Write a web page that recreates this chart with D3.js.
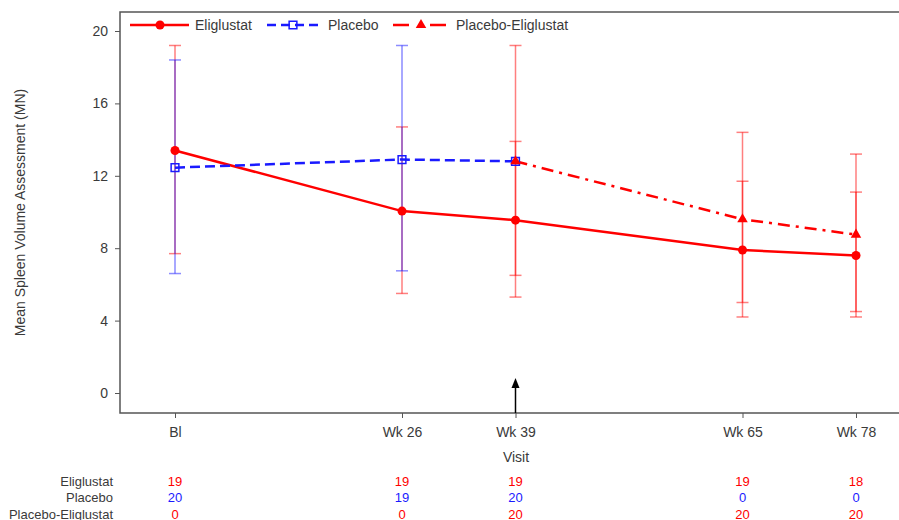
<!DOCTYPE html>
<html>
<head>
<meta charset="utf-8">
<script src="https://cdn.jsdelivr.net/npm/d3@7"></script>
<style>
  body { margin: 0; background: #fff; }
  svg text { font-family: "Liberation Sans", Arial, sans-serif; fill: #3a3a3a; }
</style>
</head>
<body>
<div id="chart"></div>
<script>
// visits and their week numbers
const visits = ["Bl", "Wk 26", "Wk 39", "Wk 65", "Wk 78"];
const weeks = [0, 26, 39, 65, 78];
const yTicks = [0, 4, 8, 12, 16, 20];

// Eliglustat mean and error bar ends
const eligMean = [13.4, 10.05, 9.55, 7.9, 7.6];
const eligLo = [7.7, 5.5, 5.3, 4.2, 4.2];
const eligHi = [19.2, 14.7, 13.9, 11.7, 11.1];

// Placebo (Bl to Wk 39)
const placeboWeeks = [0, 26, 39];
const placeboMean = [12.45, 12.9, 12.8];
const placeboBarWeeks = [0, 26];
const placeboLo = [6.6, 6.75];
const placeboHi = [18.4, 19.2];

// Placebo-Eliglustat (from Wk 39)
const switchWeeks = [39, 65, 78];
const switchMean = [12.8, 9.6, 8.75];
const switchLo = [6.5, 5.0, 4.5];
const switchHi = [19.2, 14.4, 13.2];

// subjects at each visit
const nElig = [19, 19, 19, 19, 18];
const nPlacebo = [20, 19, 20, 0, 0];
const nSwitch = [0, 0, 20, 20, 20];

const width = 899, height = 520;
const frame = {left: 120, top: 12, right: 912, bottom: 413};
const RED = "#ff0000", BLUE = "#1a1aff";

const svg = d3.select("#chart").append("svg")
    .attr("width", width)
    .attr("height", height);

const x = d3.scaleLinear().domain([0, 78]).range([175, 856]);
const y = d3.scaleLinear().domain([0, 20]).range([393, 31]);

// frame
svg.append("rect")
    .attr("x", frame.left).attr("y", frame.top)
    .attr("width", frame.right - frame.left)
    .attr("height", frame.bottom - frame.top)
    .attr("fill", "none")
    .attr("stroke", "#555")
    .attr("stroke-width", 1.5);

// y axis
const yAxis = svg.append("g")
    .attr("transform", `translate(${frame.left},0)`)
    .call(d3.axisLeft(y).tickValues(yTicks).tickSize(5).tickPadding(7));
yAxis.select(".domain").remove();
yAxis.selectAll("line").attr("stroke", "#555");
yAxis.selectAll("text").style("font-size", "14px").attr("fill", "#3a3a3a");

// x axis
const xAxis = svg.append("g")
    .attr("transform", `translate(0,${frame.bottom})`)
    .call(d3.axisBottom(x).tickValues(weeks).tickSize(5).tickPadding(9)
        .tickFormat((d, i) => visits[i]));
xAxis.select(".domain").remove();
xAxis.selectAll("line").attr("stroke", "#555");
xAxis.selectAll("text").style("font-size", "14px").attr("fill", "#3a3a3a");

// axis titles
svg.append("text")
    .attr("transform", `translate(25,${(frame.top + frame.bottom) / 2}) rotate(-90)`)
    .attr("text-anchor", "middle")
    .style("font-size", "14px")
    .text("Mean Spleen Volume Assessment (MN)");

svg.append("text")
    .attr("x", (frame.left + frame.right) / 2)
    .attr("y", 462)
    .attr("text-anchor", "middle")
    .style("font-size", "14px")
    .text("Visit");

// error bars
function errorBars(wks, lo, hi, color) {
    const g = svg.append("g")
        .attr("stroke", color)
        .attr("stroke-opacity", 0.5)
        .attr("stroke-width", 1.5);
    wks.forEach((w, i) => {
        const cx = x(w);
        g.append("line").attr("x1", cx).attr("x2", cx).attr("y1", y(lo[i])).attr("y2", y(hi[i]));
        g.append("line").attr("x1", cx - 6).attr("x2", cx + 6).attr("y1", y(lo[i])).attr("y2", y(lo[i]));
        g.append("line").attr("x1", cx - 6).attr("x2", cx + 6).attr("y1", y(hi[i])).attr("y2", y(hi[i]));
    });
}
errorBars(weeks, eligLo, eligHi, RED);
errorBars(switchWeeks, switchLo, switchHi, RED);
errorBars(placeboBarWeeks, placeboLo, placeboHi, BLUE);

const line = d3.line().x(d => x(d[0])).y(d => y(d[1]));

// series lines
svg.append("path")
    .datum(d3.zip(weeks, eligMean))
    .attr("d", line)
    .attr("fill", "none").attr("stroke", RED).attr("stroke-width", 2.5);

svg.append("path")
    .datum(d3.zip(switchWeeks, switchMean))
    .attr("d", line)
    .attr("fill", "none").attr("stroke", RED).attr("stroke-width", 2.5)
    .attr("stroke-dasharray", "12,6,3,6");

svg.append("path")
    .datum(d3.zip(placeboWeeks, placeboMean))
    .attr("d", line)
    .attr("fill", "none").attr("stroke", BLUE).attr("stroke-width", 2.5)
    .attr("stroke-dasharray", "10,5");

// markers
const circleSym = d3.symbol().type(d3.symbolCircle).size(64);
const squareSym = d3.symbol().type(d3.symbolSquare).size(60);
const triSym = d3.symbol().type(d3.symbolTriangle).size(48);

svg.append("g").selectAll("path")
    .data(d3.zip(weeks, eligMean))
    .join("path")
    .attr("d", circleSym)
    .attr("transform", d => `translate(${x(d[0])},${y(d[1])})`)
    .attr("fill", RED);

svg.append("g").selectAll("path")
    .data(d3.zip(placeboWeeks, placeboMean))
    .join("path")
    .attr("d", squareSym)
    .attr("transform", d => `translate(${x(d[0])},${y(d[1])})`)
    .attr("fill", "none").attr("stroke", BLUE).attr("stroke-width", 1.5);

svg.append("g").selectAll("path")
    .data(d3.zip(switchWeeks, switchMean))
    .join("path")
    .attr("d", triSym)
    .attr("transform", d => `translate(${x(d[0])},${y(d[1])})`)
    .attr("fill", RED);

// arrow at Wk 39
const ax = x(39);
svg.append("line")
    .attr("x1", ax).attr("x2", ax)
    .attr("y1", frame.bottom).attr("y2", 386)
    .attr("stroke", "#000").attr("stroke-width", 1.5);
svg.append("path")
    .attr("d", `M${ax},378 L${ax - 4},388 L${ax + 4},388 Z`)
    .attr("fill", "#000");

// legend
const legendItems = [
    {label: "Eliglustat", x0: 130, x1: 189, mx: 160, tx: 195, color: RED, dash: null, sym: circleSym, fill: RED},
    {label: "Placebo", x0: 267, x1: 318, mx: 293, tx: 328, color: BLUE, dash: "9,5", sym: squareSym, fill: "none"},
    {label: "Placebo-Eliglustat", x0: 393, x1: 449, mx: 421, tx: 456, color: RED, dash: "16,21", sym: triSym, fill: RED}
];
const ly = 25;
const legend = svg.append("g").classed("legend", true);
legendItems.forEach(it => {
    legend.append("line")
        .attr("x1", it.x0).attr("x2", it.x1).attr("y1", ly).attr("y2", ly)
        .attr("stroke", it.color).attr("stroke-width", 2.5)
        .attr("stroke-dasharray", it.dash);
    legend.append("path")
        .attr("d", it.sym)
        .attr("transform", `translate(${it.mx},${ly})`)
        .attr("fill", it.fill)
        .attr("stroke", it.fill === "none" ? it.color : null)
        .attr("stroke-width", 1.5);
    legend.append("text")
        .attr("x", it.tx).attr("y", ly + 5)
        .style("font-size", "14px")
        .text(it.label);
});

// subject count table
const rows = [
    {label: "Eliglustat", counts: nElig, color: RED, y: 485.5},
    {label: "Placebo", counts: nPlacebo, color: BLUE, y: 502},
    {label: "Placebo-Eliglustat", counts: nSwitch, color: RED, y: 518.5}
];
rows.forEach(r => {
    svg.append("text")
        .attr("x", 113).attr("y", r.y)
        .attr("text-anchor", "end")
        .style("font-size", "13px")
        .text(r.label);
    svg.append("g").selectAll("text")
        .data(r.counts)
        .join("text")
        .attr("x", (d, i) => x(weeks[i]))
        .attr("y", r.y)
        .attr("text-anchor", "middle")
        .style("font-size", "13px")
        .style("fill", r.color)
        .text(d => d);
});
</script>
</body>
</html>
